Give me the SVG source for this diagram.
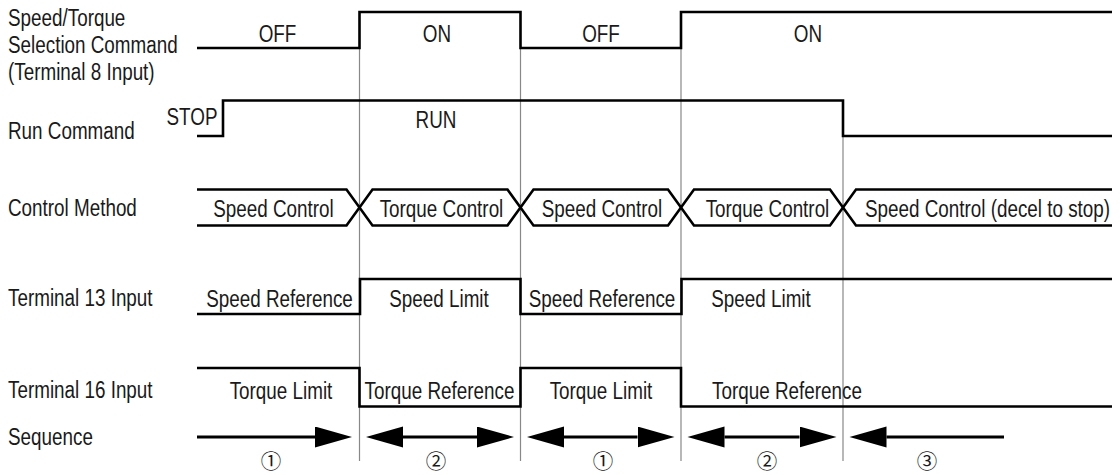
<svg xmlns="http://www.w3.org/2000/svg" width="1120" height="475" viewBox="0 0 1120 475">
<style>
text{font-family:"Liberation Sans",Arial,sans-serif;font-size:23px;fill:#1a1a1a}
.m{text-anchor:middle}
.sig{fill:none;stroke:#000;stroke-width:2.6;stroke-linejoin:miter}
.grid{stroke:#888;stroke-width:1.2}
.seq{stroke:#000;stroke-width:3;fill:none}
.num{font-family:"Noto Sans CJK JP","DejaVu Sans",sans-serif;font-size:20.5px}
</style>
<defs>
<marker id="ah" markerUnits="userSpaceOnUse" markerWidth="38" markerHeight="22" refX="0" refY="10.5" orient="auto-start-reverse">
<path d="M0,0 L37,10.5 L0,21 z" fill="#000"/>
</marker>
</defs>
<rect width="1120" height="475" fill="#fff"/>
<g id="gridlines">
<line class="grid" x1="359.5" y1="48" x2="359.5" y2="461"/>
<line class="grid" x1="520.5" y1="48" x2="520.5" y2="461"/>
<line class="grid" x1="681" y1="48" x2="681" y2="461"/>
<line class="grid" x1="843" y1="136" x2="843" y2="461"/>
</g>
<g id="labels">
<text transform="translate(8,26) scale(0.82,1)">Speed/Torque</text>
<text transform="translate(8,53) scale(0.82,1)">Selection Command</text>
<text transform="translate(8,80) scale(0.82,1)">(Terminal 8 Input)</text>
<text transform="translate(8,139) scale(0.82,1)">Run Command</text>
<text transform="translate(8,216) scale(0.82,1)">Control Method</text>
<text transform="translate(8,306) scale(0.82,1)">Terminal 13 Input</text>
<text transform="translate(8,398) scale(0.82,1)">Terminal 16 Input</text>
<text transform="translate(8,445) scale(0.82,1)">Sequence</text>
</g>
<g id="sel-cmd">
<path class="sig" d="M197,48 H359.5 V12 H520.5 V48 H681 V12 H1112"/>
<text class="m" transform="translate(277.5,41.5) scale(0.82,1)">OFF</text>
<text class="m" transform="translate(437,41.5) scale(0.82,1)">ON</text>
<text class="m" transform="translate(601,41.5) scale(0.82,1)">OFF</text>
<text class="m" transform="translate(808,41.5) scale(0.82,1)">ON</text>
</g>
<g id="run-cmd">
<path class="sig" d="M197,136 H223 V100.5 H843 V136 H1112"/>
<text class="m" transform="translate(192,125) scale(0.82,1)">STOP</text>
<text class="m" transform="translate(436,128) scale(0.82,1)">RUN</text>
</g>
<g id="control-method">
<path class="sig" d="M197,189.5 H346.5 L372.5,225.5 H507.5 L533.5,189.5 H668 L694,225.5 H830 L856,189.5 H1112"/>
<path class="sig" d="M197,225.5 H346.5 L372.5,189.5 H507.5 L533.5,225.5 H668 L694,189.5 H830 L856,225.5 H1112"/>
<text class="m" transform="translate(273.5,216.5) scale(0.82,1)">Speed Control</text>
<text class="m" transform="translate(441.5,216.5) scale(0.82,1)">Torque Control</text>
<text class="m" transform="translate(602,216.5) scale(0.82,1)">Speed Control</text>
<text class="m" transform="translate(767.5,216.5) scale(0.82,1)">Torque Control</text>
<text class="m" transform="translate(987.5,216.5) scale(0.82,1)">Speed Control (decel to stop)</text>
</g>
<g id="terminal13">
<path class="sig" d="M197,314 H360 V279 H520.5 V314 H681.5 V279 H1112"/>
<text class="m" transform="translate(279.5,306.5) scale(0.82,1)">Speed Reference</text>
<text class="m" transform="translate(439,306.5) scale(0.82,1)">Speed Limit</text>
<text class="m" transform="translate(602,306.5) scale(0.82,1)">Speed Reference</text>
<text class="m" transform="translate(761,306.5) scale(0.82,1)">Speed Limit</text>
</g>
<g id="terminal16">
<path class="sig" d="M197,368 H359.5 V406.5 H520.5 V368 H681 V406.5 H1112"/>
<text class="m" transform="translate(281,398.5) scale(0.82,1)">Torque Limit</text>
<text class="m" transform="translate(439.5,398.5) scale(0.82,1)">Torque Reference</text>
<text class="m" transform="translate(601,398.5) scale(0.82,1)">Torque Limit</text>
<text class="m" transform="translate(787,398.5) scale(0.82,1)">Torque Reference</text>
</g>
<g id="connectors">
<line class="seq" x1="197" y1="437" x2="315" y2="437" marker-end="url(#ah)"/>
<line class="seq" x1="403" y1="437" x2="477" y2="437" marker-start="url(#ah)" marker-end="url(#ah)"/>
<line class="seq" x1="564" y1="437" x2="637.5" y2="437" marker-start="url(#ah)" marker-end="url(#ah)"/>
<line class="seq" x1="724.5" y1="437" x2="799.5" y2="437" marker-start="url(#ah)" marker-end="url(#ah)"/>
<line class="seq" x1="886.5" y1="437" x2="1004" y2="437" marker-start="url(#ah)"/>
</g>
<g id="sequence-numbers">
<text class="num m" x="271" y="469">①</text>
<text class="num m" x="436" y="469">②</text>
<text class="num m" x="603" y="469">①</text>
<text class="num m" x="767" y="469">②</text>
<text class="num m" x="927" y="469">③</text>
</g>
</svg>
